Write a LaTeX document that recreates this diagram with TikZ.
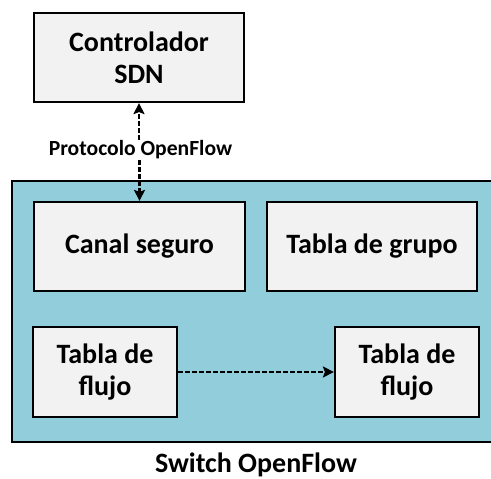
\documentclass[tikz,border=0pt]{standalone}
\usepackage{fontspec}
\setmainfont{Carlito}
\usetikzlibrary{arrows.meta}
\definecolor{swblue}{HTML}{92CDDC}
\definecolor{boxgray}{HTML}{F2F2F2}
\begin{document}
\begin{tikzpicture}[x=1pt,y=1pt,
  blk/.style={draw=black, line width=2.2pt, fill=boxgray, align=center, inner sep=0pt,
    font=\fontsize{28}{32}\selectfont\bfseries},
  conn/.style={line width=2.2pt, dash pattern=on 4.5pt off 2.5pt, -{Stealth[length=11pt,width=11pt,inset=2pt]}},
  lbl/.style={font=\fontsize{21.6}{26}\selectfont\bfseries, inner sep=1pt}]
\useasboundingbox (0,0) rectangle (491,479);
\clip (0,0) rectangle (491,479);
\fill[white] (0,0) rectangle (491,479);
\draw[line width=2.2pt, fill=swblue] (12,298) rectangle (500,37);
\node[blk, minimum width=210pt, minimum height=89pt] (ctrl) at (139,421.5) {Controlador\\SDN};
\node[blk, minimum width=211pt, minimum height=89pt] (canal) at (139.5,232.5) {Canal seguro};
\node[blk, minimum width=210pt, minimum height=89pt] (grupo) at (372,232.5) {Tabla de grupo};
\node[blk, minimum width=144pt, minimum height=90pt] (f1) at (105,107) {Tabla de\\flujo};
\node[blk, minimum width=144pt, minimum height=90pt] (f2) at (407,107) {Tabla de\\flujo};
\node[lbl] (proto) at (140.5,329) {Protocolo OpenFlow};
\node[font=\fontsize{28}{32}\selectfont\bfseries, inner sep=0pt] (sw) at (256,14) {Switch OpenFlow};
\draw[conn] (proto.north -| ctrl.south) -- (ctrl.south);
\draw[conn] (proto.south -| canal.north) -- (canal.north);
\draw[conn] (f1.east) -- (f2.west);
\end{tikzpicture}
\end{document}
